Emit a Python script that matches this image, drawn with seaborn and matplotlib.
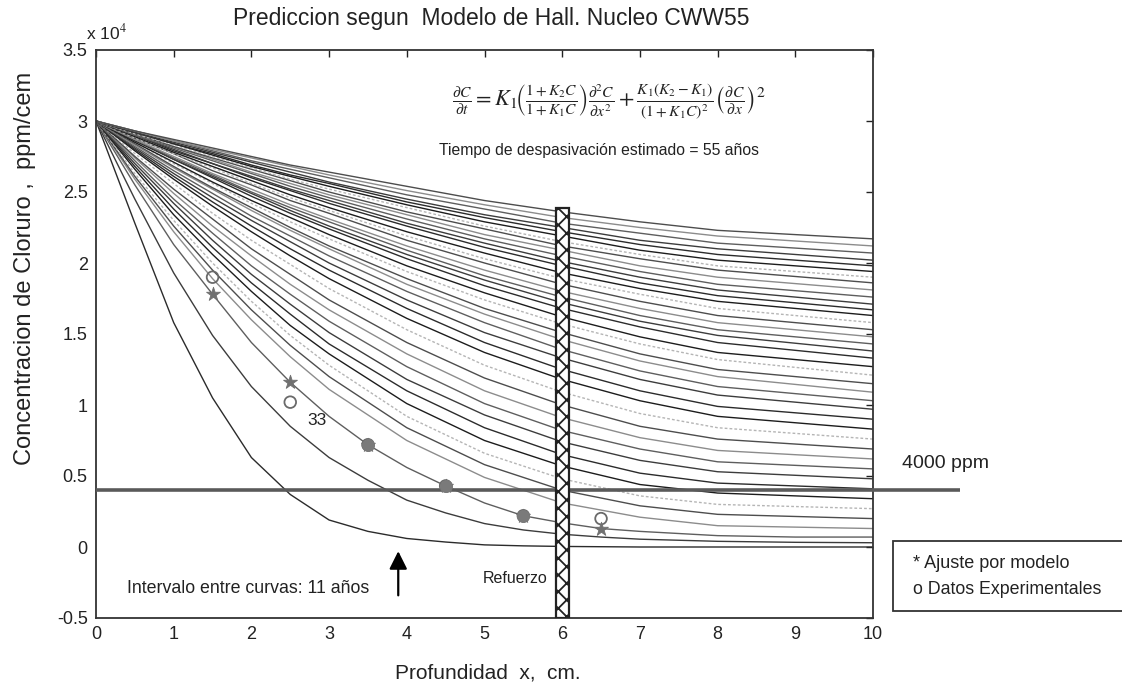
import numpy as np
import pandas as pd
import matplotlib
matplotlib.use('Agg')
import matplotlib.pyplot as plt
import seaborn as sns
from matplotlib.patches import Rectangle

sns.set_theme(style='white')
plt.rcParams['font.family'] = ['Liberation Sans', 'DejaVu Sans']
plt.rcParams['mathtext.fontset'] = 'stix'
plt.rcParams['hatch.linewidth'] = 1.3

# ---------------- data (concentration in units of 1e4 ppm) ----------------
depth_fine = [0, 0.5, 1, 1.5, 2, 2.5, 3, 3.5, 4, 4.5, 5, 5.5, 6, 6.5, 7, 8, 9, 10]
depth_cm = [0, 0.5, 1, 1.5, 2, 2.5, 3, 4, 5, 6, 7, 8, 10]

c01 = [3, 2.28, 1.58, 1.05, 0.63, 0.37, 0.19, 0.11, 0.06, 0.035, 0.015, 0.008, 0.004, 0.002, 0.0, 0.0, 0.0, 0.0]
c02 = [3, 2.45, 1.93, 1.49, 1.13, 0.85, 0.63, 0.47, 0.33, 0.24, 0.165, 0.12, 0.09, 0.07, 0.055, 0.04, 0.033, 0.03]
c03 = [3, 2.55, 2.13, 1.78, 1.44, 1.16, 0.92, 0.72, 0.56, 0.43, 0.31, 0.22, 0.17, 0.13, 0.11, 0.08, 0.07, 0.07]
c04 = [3, 2.59, 2.22, 1.89, 1.60, 1.34, 1.11, 0.75, 0.49, 0.31, 0.21, 0.15, 0.13]
c05 = [3, 2.61, 2.26, 1.95, 1.67, 1.42, 1.20, 0.84, 0.58, 0.40, 0.29, 0.23, 0.20]
c06 = [3, 2.63, 2.30, 2.00, 1.73, 1.49, 1.28, 0.92, 0.66, 0.48, 0.36, 0.30, 0.27]
c07 = [3, 2.66, 2.34, 2.06, 1.80, 1.56, 1.36, 1.01, 0.75, 0.57, 0.44, 0.38, 0.34]
c08 = [3, 2.68, 2.38, 2.11, 1.86, 1.64, 1.43, 1.10, 0.84, 0.65, 0.52, 0.45, 0.41]
c09 = [3, 2.70, 2.42, 2.16, 1.92, 1.71, 1.51, 1.18, 0.93, 0.74, 0.61, 0.53, 0.48]
c10 = [3, 2.72, 2.45, 2.21, 1.98, 1.78, 1.59, 1.27, 1.01, 0.82, 0.69, 0.60, 0.55]
c11 = [3, 2.74, 2.49, 2.26, 2.05, 1.85, 1.67, 1.36, 1.10, 0.91, 0.77, 0.68, 0.62]
c12 = [3, 2.75, 2.52, 2.31, 2.10, 1.92, 1.74, 1.44, 1.19, 1.00, 0.85, 0.76, 0.69]
c13 = [3, 2.77, 2.56, 2.35, 2.16, 1.99, 1.82, 1.53, 1.28, 1.09, 0.94, 0.84, 0.76]
c14 = [3, 2.79, 2.59, 2.40, 2.22, 2.05, 1.89, 1.61, 1.37, 1.18, 1.03, 0.92, 0.83]
c15 = [3, 2.80, 2.61, 2.43, 2.26, 2.10, 1.95, 1.68, 1.44, 1.25, 1.10, 0.99, 0.90]
c16 = [3, 2.81, 2.63, 2.46, 2.30, 2.15, 2.00, 1.74, 1.51, 1.33, 1.18, 1.07, 0.97]
c17 = [3, 2.82, 2.65, 2.49, 2.33, 2.19, 2.05, 1.80, 1.58, 1.39, 1.24, 1.13, 1.03]
c18 = [3, 2.83, 2.67, 2.52, 2.37, 2.23, 2.10, 1.85, 1.64, 1.46, 1.31, 1.20, 1.09]
c19 = [3, 2.84, 2.68, 2.53, 2.39, 2.25, 2.12, 1.89, 1.68, 1.51, 1.36, 1.25, 1.15]
c20 = [3, 2.85, 2.70, 2.56, 2.42, 2.29, 2.17, 1.94, 1.74, 1.57, 1.43, 1.32, 1.21]
c21 = [3, 2.85, 2.71, 2.57, 2.44, 2.32, 2.20, 1.98, 1.79, 1.62, 1.48, 1.37, 1.27]
c22 = [3, 2.86, 2.73, 2.60, 2.47, 2.35, 2.24, 2.03, 1.84, 1.68, 1.55, 1.44, 1.33]
c23 = [3, 2.87, 2.73, 2.61, 2.49, 2.37, 2.26, 2.06, 1.88, 1.72, 1.59, 1.49, 1.38]
c24 = [3, 2.87, 2.74, 2.62, 2.50, 2.39, 2.29, 2.09, 1.91, 1.76, 1.63, 1.53, 1.43]
c25 = [3, 2.87, 2.75, 2.63, 2.52, 2.41, 2.31, 2.12, 1.95, 1.80, 1.68, 1.58, 1.48]
c26 = [3, 2.88, 2.77, 2.65, 2.55, 2.44, 2.35, 2.16, 2.00, 1.85, 1.73, 1.63, 1.53]
c27 = [3, 2.88, 2.77, 2.67, 2.56, 2.46, 2.37, 2.19, 2.03, 1.89, 1.78, 1.68, 1.58]
c28 = [3, 2.89, 2.78, 2.68, 2.58, 2.48, 2.39, 2.22, 2.07, 1.93, 1.82, 1.73, 1.63]
c29 = [3, 2.90, 2.79, 2.70, 2.60, 2.51, 2.42, 2.26, 2.11, 1.98, 1.86, 1.77, 1.67]
c30 = [3, 2.90, 2.80, 2.70, 2.61, 2.52, 2.44, 2.28, 2.14, 2.01, 1.90, 1.81, 1.71]
c31 = [3, 2.90, 2.81, 2.72, 2.63, 2.54, 2.46, 2.31, 2.17, 2.05, 1.94, 1.85, 1.76]
c32 = [3, 2.91, 2.82, 2.73, 2.64, 2.56, 2.48, 2.34, 2.20, 2.09, 1.98, 1.90, 1.81]
c33 = [3, 2.91, 2.82, 2.74, 2.66, 2.58, 2.50, 2.36, 2.24, 2.12, 2.03, 1.95, 1.86]
c34 = [3, 2.91, 2.83, 2.75, 2.67, 2.59, 2.52, 2.39, 2.26, 2.15, 2.06, 1.98, 1.90]
c35 = [3, 2.92, 2.84, 2.76, 2.68, 2.61, 2.54, 2.41, 2.29, 2.19, 2.09, 2.02, 1.94]
c36 = [3, 2.92, 2.84, 2.77, 2.69, 2.62, 2.56, 2.43, 2.32, 2.22, 2.13, 2.06, 1.98]
c37 = [3, 2.92, 2.85, 2.78, 2.71, 2.64, 2.57, 2.45, 2.34, 2.25, 2.16, 2.10, 2.02]
c38 = [3, 2.93, 2.86, 2.79, 2.72, 2.66, 2.60, 2.48, 2.38, 2.28, 2.21, 2.14, 2.07]
c39 = [3, 2.93, 2.86, 2.80, 2.74, 2.68, 2.62, 2.51, 2.41, 2.32, 2.25, 2.19, 2.12]
c40 = [3, 2.93, 2.87, 2.81, 2.75, 2.69, 2.64, 2.54, 2.44, 2.36, 2.29, 2.23, 2.17]

early_profiles = [c01, c02, c03]
late_profiles = [c04, c05, c06, c07, c08, c09, c10,
                 c11, c12, c13, c14, c15, c16, c17, c18, c19, c20,
                 c21, c22, c23, c24, c25, c26, c27, c28, c29, c30,
                 c31, c32, c33, c34, c35, c36, c37, c38, c39, c40]

exp_x = [1.5, 2.5, 3.5, 4.5, 5.5, 6.5]
datos_exp = [1.90, 1.02, 0.72, 0.43, 0.22, 0.20]
ajuste_modelo = [1.78, 1.16, 0.72, 0.43, 0.22, 0.13]
umbral = 0.4          # 4000 ppm
refuerzo_x = 6.0
refuerzo_top = 2.39

x_ticks = [0, 1, 2, 3, 4, 5, 6, 7, 8, 9, 10]
y_ticks = [-0.5, 0, 0.5, 1, 1.5, 2, 2.5, 3, 3.5]
y_ticklabels = ['-0.5', '0', '0.5', '1', '1.5', '2', '2.5', '3', '3.5']

# ---------------- figure ----------------
W, H = 1122, 691
fig = plt.figure(figsize=(W / 100, H / 100), dpi=100)
fig.patch.set_facecolor('white')
ax = fig.add_axes([96 / W, 1 - 618 / H, (873 - 96) / W, (618 - 50) / H])
ax.set_facecolor('white')

rows = []
k = 0
for prof in early_profiles:
    for xv, yv in zip(depth_fine, prof):
        rows.append({'curva': k, 'x': xv, 'C': yv})
    k += 1
for prof in late_profiles:
    for xv, yv in zip(depth_cm, prof):
        rows.append({'curva': k, 'x': xv, 'C': yv})
    k += 1
df = pd.DataFrame(rows)

grays = ['#2b2b2b', '#3c3c3c', '#5e5e5e', '#8c8c8c', '#4d4d4d', '#b5b5b5', '#1c1c1c']
for i in range(k):
    sub = df[df['curva'] == i]
    col = grays[i % 7]
    ls = (0, (2, 1.5)) if i % 7 == 5 else '-'
    sns.lineplot(data=sub, x='x', y='C', ax=ax, color=col, lw=1.0,
                 linestyle=ls, sort=False, estimator=None, zorder=2)

# 4000 ppm threshold line (extends beyond the axes)
ax.plot([0, 11.12], [umbral, umbral], color='#5a5a5a', lw=2.6,
        clip_on=False, zorder=3, solid_capstyle='butt')

# experimental data and model fit markers
sns.scatterplot(x=exp_x, y=datos_exp, ax=ax, marker='o', s=70,
                facecolor='none', edgecolor='#6a6a6a', linewidth=1.3, zorder=6)
sns.scatterplot(x=exp_x, y=ajuste_modelo, ax=ax, marker='*', s=110,
                color='#707070', edgecolor='#707070', linewidth=0.6, zorder=6)
sns.scatterplot(x=exp_x[2:5], y=ajuste_modelo[2:5], ax=ax, marker='o', s=75,
                color='#7a7a7a', edgecolor='#7a7a7a', zorder=6)

# reinforcement bar
ax.add_patch(Rectangle((refuerzo_x - 0.075, -0.5), 0.16, refuerzo_top + 0.5,
                       facecolor='white', edgecolor='#222222', hatch='xx',
                       lw=1.6, zorder=7))

ax.set_xlim(0, 10)
ax.set_ylim(-0.5, 3.5)
ax.set_xticks(x_ticks)
ax.set_xticklabels([str(t) for t in x_ticks])
ax.set_yticks(y_ticks)
ax.set_yticklabels(y_ticklabels)
ax.tick_params(direction='in', length=5, width=1.0, colors='#222222',
               labelsize=13, top=True, right=True, pad=6)
for s in ax.spines.values():
    s.set_color('#333333')
    s.set_linewidth(1.3)
    s.set_visible(True)

ax.set_xlabel('')
ax.set_ylabel('')
fig.text(488 / W, 1 - 673 / H, 'Profundidad  x,  cm.', ha='center', va='center',
         fontsize=15, color='#222222')
fig.text(25 / W, 1 - 268 / H, 'Concentracion de Cloruro ,  ppm/cem', ha='center',
         va='center', rotation=90, fontsize=17, color='#222222')

# texts
fig.text(0.438, 1 - 18 / H, 'Prediccion segun  Modelo de Hall. Nucleo CWW55',
         ha='center', va='center', fontsize=16.5, color='#222222')
fig.text(86 / W, 1 - 32 / H, r'x 10$^{4}$', ha='left', va='center',
         fontsize=12.5, color='#222222')

eq = (r'$\frac{\partial C}{\partial t}=K_1\!\left(\frac{1+K_2C}{1+K_1C}\right)'
      r'\frac{\partial^2 C}{\partial x^2}+\frac{K_1(K_2-K_1)}{(1+K_1C)^2}'
      r'\left(\frac{\partial C}{\partial x}\right)^2$')
ax.text(6.6, 3.13, eq, ha='center', va='center', fontsize=16, color='#222222')
ax.text(6.47, 2.79, 'Tiempo de despasivación estimado = 55 años', ha='center',
        va='center', fontsize=11.3, color='#222222')
ax.text(2.72, 0.89, '33', ha='left', va='center', fontsize=12.5, color='#222222')
ax.text(0.40, -0.29, 'Intervalo entre curvas: 11 años', ha='left', va='center',
        fontsize=12.8, color='#222222')
ax.text(4.98, -0.225, 'Refuerzo', ha='left', va='center', fontsize=11.5,
        color='#222222')
ax.text(10.37, 0.585, '4000 ppm', ha='left', va='center', fontsize=14,
        color='#222222', clip_on=False)

ax.annotate('', xy=(3.89, -0.01), xytext=(3.89, -0.36),
            arrowprops=dict(arrowstyle='-|>,head_length=0.9,head_width=0.45',
                            color='black', lw=1.6), zorder=8)

# legend box outside the axes
fig.patches.append(Rectangle((893 / W, 1 - 611 / H), 0.25, 70 / H,
                             transform=fig.transFigure, facecolor='white',
                             edgecolor='#333333', lw=1.3))
fig.text(913 / W, 1 - 564 / H, '* Ajuste por modelo', ha='left', va='center',
         fontsize=13, color='#222222')
fig.text(913 / W, 1 - 589 / H, 'o Datos Experimentales', ha='left', va='center',
         fontsize=12.8, color='#222222')

fig.savefig('out.png', dpi=100, facecolor='white')
